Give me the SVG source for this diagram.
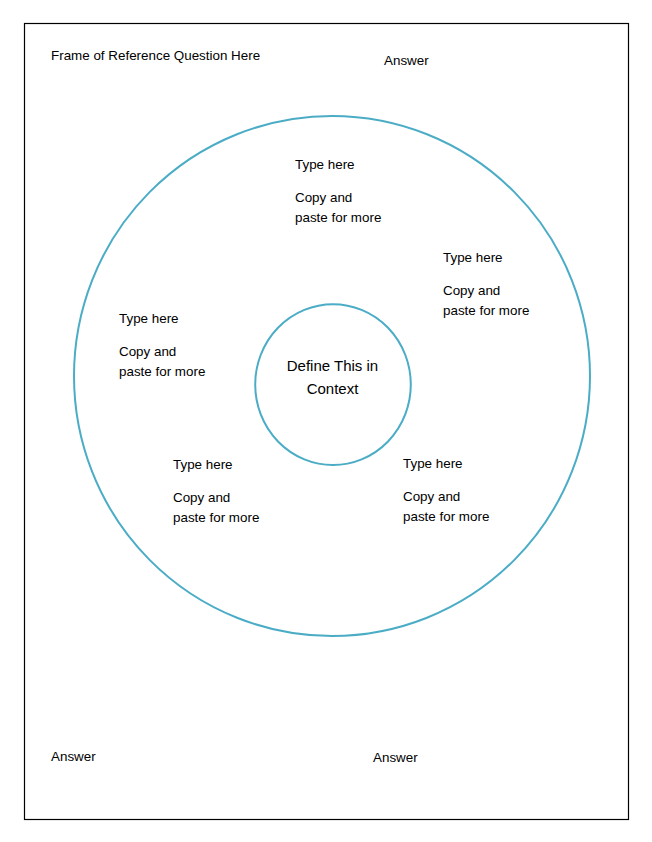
<svg xmlns="http://www.w3.org/2000/svg" width="652" height="842" viewBox="0 0 652 842">
<style>
.t{font-family:"Liberation Sans",Arial,sans-serif;font-size:13.4px;fill:#000}
.c{font-family:"Liberation Sans",Arial,sans-serif;font-size:15px;fill:#000;text-anchor:middle}
.ring{fill:none;stroke:#4bacc6;stroke-width:2}
</style>
<rect x="0" y="0" width="652" height="842" fill="#fff"/>
<rect id="frame" x="24.5" y="23.5" width="604" height="796" fill="none" stroke="#000" stroke-width="1.2"/>
<g id="question"><text class="t" x="51" y="60">Frame of Reference Question Here</text></g>
<g id="answer1"><text class="t" x="384" y="65">Answer</text></g>
<g id="answer2"><text class="t" x="51" y="761">Answer</text></g>
<g id="answer3"><text class="t" x="373" y="762">Answer</text></g>
<g id="outer"><ellipse class="ring" cx="332" cy="376" rx="258" ry="260"/></g>
<g id="inner"><ellipse class="ring" cx="333" cy="384.6" rx="77.8" ry="80.4"/>
<text class="c" x="332.5" y="371">Define This in</text>
<text class="c" x="332.5" y="394">Context</text></g>
<g id="item1"><text class="t" x="295" y="169">Type here</text><text class="t" x="295" y="202">Copy and</text><text class="t" x="295" y="222">paste for more</text></g>
<g id="item2"><text class="t" x="443" y="262">Type here</text><text class="t" x="443" y="295">Copy and</text><text class="t" x="443" y="315">paste for more</text></g>
<g id="item3"><text class="t" x="119" y="323">Type here</text><text class="t" x="119" y="356">Copy and</text><text class="t" x="119" y="376">paste for more</text></g>
<g id="item4"><text class="t" x="173" y="469">Type here</text><text class="t" x="173" y="502">Copy and</text><text class="t" x="173" y="522">paste for more</text></g>
<g id="item5"><text class="t" x="403" y="468">Type here</text><text class="t" x="403" y="501">Copy and</text><text class="t" x="403" y="521">paste for more</text></g>
<g id="connectors"></g>
</svg>
